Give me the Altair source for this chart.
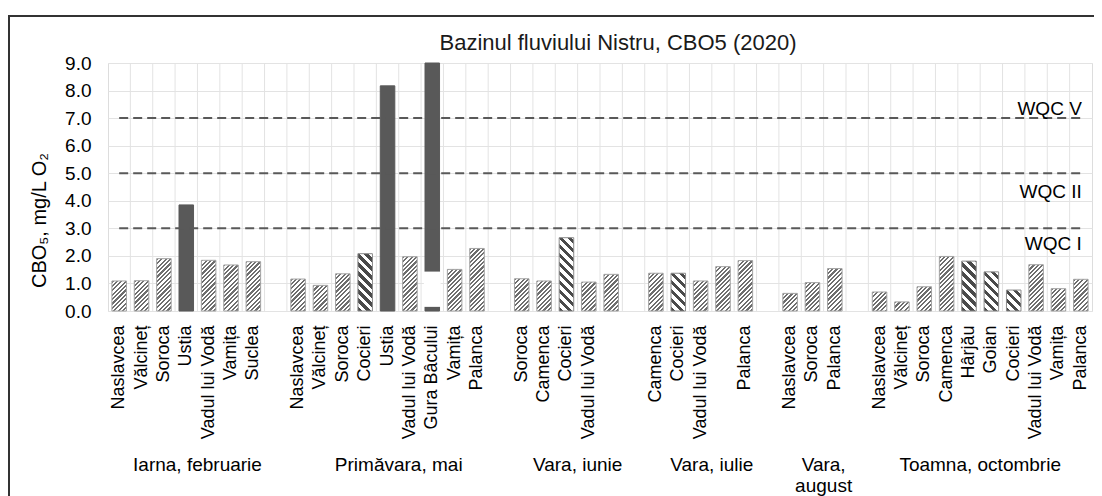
import json
import math
import altair as alt
import pandas as pd

# ---------------- data ----------------
title_text = "Bazinul fluviului Nistru, CBO5 (2020)"
y_title = "CBO₅, mg/L O₂"

groups = ["Iarna, februarie", "Primăvara, mai", "Vara, iunie",
          "Vara, iulie", "Vara,\naugust", "Toamna, octombrie"]

stations = [
    ["Naslavcea", "Vălcineț", "Soroca", "Ustia", "Vadul lui Vodă", "Vamița", "Suclea"],
    ["Naslavcea", "Vălcineț", "Soroca", "Cocieri", "Ustia", "Vadul lui Vodă",
     "Gura Bâcului", "Vamița", "Palanca"],
    ["Soroca", "Camenca", "Cocieri", "Vadul lui Vodă", ""],
    ["Camenca", "Cocieri", "Vadul lui Vodă", "", "Palanca"],
    ["Naslavcea", "Soroca", "Palanca"],
    ["Naslavcea", "Vălcineț", "Soroca", "Camenca", "Hârjău", "Goian", "Cocieri",
     "Vadul lui Vodă", "Vamița", "Palanca"],
]

values = [
    [1.09, 1.10, 1.90, 3.85, 1.84, 1.67, 1.79],
    [1.16, 0.93, 1.35, 2.08, 8.17, 1.97, 9.00, 1.51, 2.27],
    [1.17, 1.09, 2.66, 1.05, 1.33],
    [1.37, 1.37, 1.09, 1.61, 1.83],
    [0.64, 1.03, 1.54],
    [0.69, 0.33, 0.88, 1.98, 1.81, 1.42, 0.76, 1.68, 0.81, 1.15],
]

# h = light hatch, d = dark diagonal, s = solid
styles = [
    ["h", "h", "h", "s", "h", "h", "h"],
    ["h", "h", "h", "d", "s", "h", "s", "h", "h"],
    ["h", "h", "d", "h", "h"],
    ["h", "d", "h", "h", "h"],
    ["h", "h", "h"],
    ["h", "h", "h", "h", "d", "d", "d", "h", "h", "h"],
]

# axis break drawn on the Gura Bâcului bar (white gap)
break_station = "Gura Bâcului"
break_range = [0.15, 1.43]

thresholds = [7.0, 5.0, 3.0]
threshold_names = ["WQC V", "WQC II", "WQC I"]

# ---------------- build tables ----------------
rows, labels, group_rows = [], [], []
slot = 0
for gi, (st, vals, sty) in enumerate(zip(stations, values, styles)):
    start = slot
    for s, v, t in zip(st, vals, sty):
        rows.append({"slot": slot, "value": v, "style": t, "station": s, "group": groups[gi]})
        labels.append(s)
        slot += 1
    gap = 1 if gi < len(groups) - 1 else 0
    group_rows.append({"slot": start + (len(st) + gap) // 2, "group": groups[gi]})
    if gap:
        labels.append("")
        slot += 1
n_slots = slot

df = pd.DataFrame(rows)
df_groups = pd.DataFrame(group_rows)
gura_slot = int(df[(df.station == break_station)].slot.iloc[0])
df_break = pd.DataFrame({"slot": [gura_slot], "value": [break_range[0]], "value2": [break_range[1]]})

thr_rows = []
for t, nm in zip(thresholds, threshold_names):
    thr_rows.append({"slot": 0, "value": t, "name": nm})
    thr_rows.append({"slot": n_slots - 1, "value": t, "name": nm})
df_thr = pd.DataFrame(thr_rows)

# ---------------- chart ----------------
W, H = 984, 248
YMAX = 9
FONT = "Liberation Sans"
BAND = 0.65
bar_w_px = BAND * W / n_slots

xscale = alt.Scale(domain=list(range(n_slots)), paddingInner=0, paddingOuter=0)
label_expr = json.dumps(labels, ensure_ascii=False) + "[datum.value]"
xaxis = alt.Axis(title=None, labelExpr=label_expr, labelAngle=-90, labelFontSize=18,
                 labelPadding=14, ticks=False, domain=False, grid=False,
                 labelColor="#000", labelOverlap=False)
yscale = alt.Scale(domain=[0, YMAX], nice=False)
yaxis = alt.Axis(title=y_title, values=list(range(10)), format=".1f", grid=True,
                 gridColor="#e3e3e3", ticks=False, domain=False, labelFontSize=19,
                 labelPadding=17, labelColor="#000", titleFontSize=20,
                 titleFontWeight="normal", titleColor="#000", titleX=-63, titleY=157,
                 titleBaseline="alphabetic", titleAlign="center", titleAngle=-90)


def X(**kw):
    return alt.X("slot:O", scale=xscale, axis=xaxis, **kw)


def Y():
    return alt.Y("value:Q", scale=yscale, axis=yaxis)


def hatch(value, direction, period, frac, color):
    """Diagonal 45-degree stripes made from a bounding-box linear gradient."""
    w = bar_w_px
    h = max(value * H / YMAX, 0.5)
    L = w + h
    k = L * w / (w * w + h * h)
    if direction == "/":
        x1, y1, x2, y2 = 0, 0, k, k * h / w
    else:
        x1, y1, x2, y2 = 0, 1, k, 1 - k * h / w
    stops = []
    n = int(math.ceil(L / period))
    for i in range(n):
        a = min(i * period / L, 1)
        b = min((i + frac) * period / L, 1)
        c = min((i + 1) * period / L, 1)
        stops += [alt.GradientStop(offset=a, color=color), alt.GradientStop(offset=b, color=color),
                  alt.GradientStop(offset=b, color="#ffffff"), alt.GradientStop(offset=c, color="#ffffff")]
    return alt.LinearGradient(gradient="linear", stops=stops, x1=x1, y1=y1, x2=x2, y2=y2)


frame = alt.Chart(pd.DataFrame({"a": [0]})).mark_rect(
    fill="white", fillOpacity=0, stroke="#333333", strokeWidth=2
).encode(x=alt.value(-99), y=alt.value(-47), x2=alt.value(W + 200), y2=alt.value(H + 400))

vgrid = alt.Chart(pd.DataFrame({"slot": list(range(1, n_slots))})).mark_rule(
    color="#e3e3e3", strokeWidth=1
).encode(x=X(bandPosition=0))

bar_layers = []
for r in rows:
    d = pd.DataFrame([r])
    if r["style"] == "s":
        mk = alt.Chart(d).mark_bar(width=alt.RelativeBandSize(BAND), fill="#595959",
                                   stroke="#595959", strokeWidth=1)
    elif r["style"] == "d":
        mk = alt.Chart(d).mark_bar(width=alt.RelativeBandSize(BAND),
                                   fill=hatch(r["value"], "\\", 9.0, 0.5, "#4a4a4a"),
                                   stroke="#8a8a8a", strokeWidth=1)
    else:
        mk = alt.Chart(d).mark_bar(width=alt.RelativeBandSize(BAND),
                                   fill=hatch(r["value"], "/", 4.4, 0.5, "#6e6e6e"),
                                   stroke="#a3a3a3", strokeWidth=1)
    bar_layers.append(mk.encode(x=X(), y=Y(), tooltip=["group:N", "station:N", "value:Q"]))

brk = alt.Chart(df_break).mark_bar(width=alt.RelativeBandSize(BAND + 0.1), color="white").encode(
    x=X(), y=Y(), y2="value2:Q"
)

lines = alt.Chart(df_thr).mark_line(color="#595959", strokeWidth=2, strokeDash=[9, 5]).encode(
    x=X(), y=Y(), detail="name:N"
)

wqc_dy = {"WQC V": -9, "WQC II": 19, "WQC I": 16}
wqc_layers = []
for nm in threshold_names:
    wqc_layers.append(
        alt.Chart(df_thr[(df_thr.name == nm) & (df_thr.slot == n_slots - 1)]).mark_text(
            align="right", baseline="middle", fontSize=19, color="#000", dy=wqc_dy[nm], dx=1
        ).encode(x=X(), y=Y(), text="name:N")
    )

glabels = alt.Chart(df_groups).mark_text(
    align="center", baseline="top", fontSize=19, color="#000", lineBreak="\n", lineHeight=21
).encode(x=X(bandPosition=0), y=alt.value(H + 145), text="group:N")

title = alt.Chart(pd.DataFrame({"t": [title_text]})).mark_text(
    align="center", baseline="alphabetic", fontSize=22, color="#1a1a1a"
).encode(x=alt.value(510), y=alt.value(-13), text="t:N")

chart = alt.layer(frame, vgrid, *bar_layers, brk, lines, *wqc_layers, glabels, title).properties(
    width=W, height=H,
    autosize=alt.AutoSizeParams(type="none"),
    padding={"left": 100, "top": 55, "right": 2, "bottom": 185},
).configure_view(stroke="#d9d9d9").configure(font=FONT)

chart.save("out.html", embed_options={"renderer": "svg", "actions": False})
